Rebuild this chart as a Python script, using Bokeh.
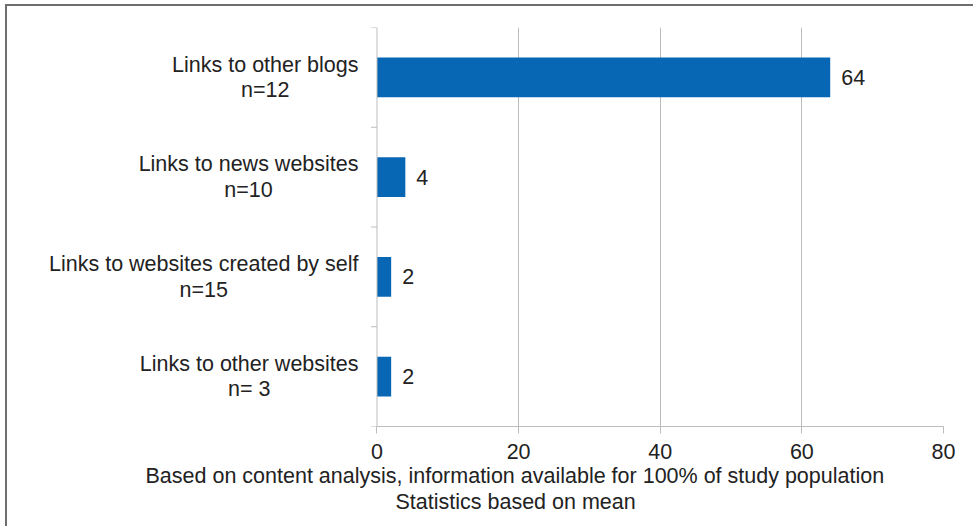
import math
from bokeh.plotting import figure
from bokeh.models import (Range1d, FixedTicker, LabelSet, ColumnDataSource, Span, Title,
                          LinearAxis)
from bokeh.core.properties import value
from bokeh.embed import file_html
from bokeh.resources import INLINE

# ---- data ----
categories = ["Links to other blogs", "Links to news websites",
              "Links to websites created by self", "Links to other websites"]
counts = ["n=12", "n=10", "n=15", "n= 3"]
values = [64, 4, 2, 2]
x_ticks = [0, 20, 40, 60, 80]
footnotes = ["Based on content analysis, information available  for 100% of study population",
             "Statistics based on mean"]
footnote_left = [138, 388]   # left edge of each footnote line, px

FONT = "Liberation Sans"
FS = "21.5px"
TXT = "#222222"
GRID = "#bdbdbd"
BAR = "#0767b4"

ncat = len(categories)
ypos = [ncat - i - 0.5 for i in range(ncat)]   # first category on top

# the frame also holds the category-label area left of x = 0
LABEL_SPACE = -52.18

p = figure(width=968, height=522, output_backend="svg", toolbar_location=None,
           title=None,
           y_range=Range1d(0, ncat), x_range=Range1d(LABEL_SPACE, x_ticks[-1]),
           min_border_left=0, min_border_right=32, min_border_top=21, min_border_bottom=102)
p.styles = {"border-top": "2px solid #6e6e6e", "border-left": "2px solid #6e6e6e",
            "margin-left": "5px", "margin-top": "4px"}
p.outline_line_color = None
p.background_fill_color = "white"
p.border_fill_color = "white"

src = ColumnDataSource(dict(y=ypos, val=values, lab=[str(v) for v in values],
                            name=[f"{c}\n{n}" for c, n in zip(categories, counts)]))
p.hbar(y="y", right="val", left=0, height=0.4, source=src, fill_color=BAR, line_color=None)

# x axis limited to the value range
xa = p.xaxis[0]
xa.bounds = (x_ticks[0], x_ticks[-1])
xa.ticker = FixedTicker(ticks=x_ticks)
xa.axis_line_color = GRID
xa.major_tick_line_color = GRID
xa.major_tick_out = 7
xa.major_tick_in = 0
xa.minor_tick_line_color = None
xa.major_label_text_font = FONT
xa.major_label_text_font_size = FS
xa.major_label_text_color = TXT
xa.major_label_standoff = 10

p.xgrid.ticker = FixedTicker(ticks=x_ticks[1:])
p.xgrid.grid_line_color = GRID
p.ygrid.grid_line_color = None

# value axis line at x = 0 with ticks at category boundaries
p.yaxis.visible = False
p.add_layout(Span(location=0, dimension="height", line_color=GRID, line_width=1))
p.ray(x=0, y=list(range(ncat + 1)), length=6, length_units="screen", angle=math.pi,
      line_color=GRID, line_width=1)

# category labels: block right-aligned, lines centred
p.text(x=-2.61, y="y", text="name", source=src,
       anchor=value("center_right"), text_align="center",
       text_font=value(FONT), text_font_size=value(FS), text_color=TXT,
       text_line_height=1.07)

# value labels
p.add_layout(LabelSet(x="val", y="y", text="lab", source=src, x_offset=11,
                      text_baseline="middle", text_align="left",
                      text_font=value(FONT), text_font_size=value(FS),
                      text_color=TXT))

# empty axis used as a gap between the tick labels and the footnotes
gap = LinearAxis(ticker=FixedTicker(ticks=[]), axis_line_color=None,
                 major_tick_out=17, major_tick_in=0, major_tick_line_color=None,
                 minor_tick_out=0, minor_tick_line_color=None,
                 major_label_standoff=0, major_label_text_font_size="0px")
p.add_layout(gap, "below")

# footnotes
for t, off in zip(footnotes, footnote_left):
    p.add_layout(Title(text=t, align="left", offset=off, standoff=0,
                       text_font=FONT, text_font_size=FS, text_color=TXT,
                       text_font_style="normal"), "below")

open("out.html", "w").write(file_html(p, INLINE))
